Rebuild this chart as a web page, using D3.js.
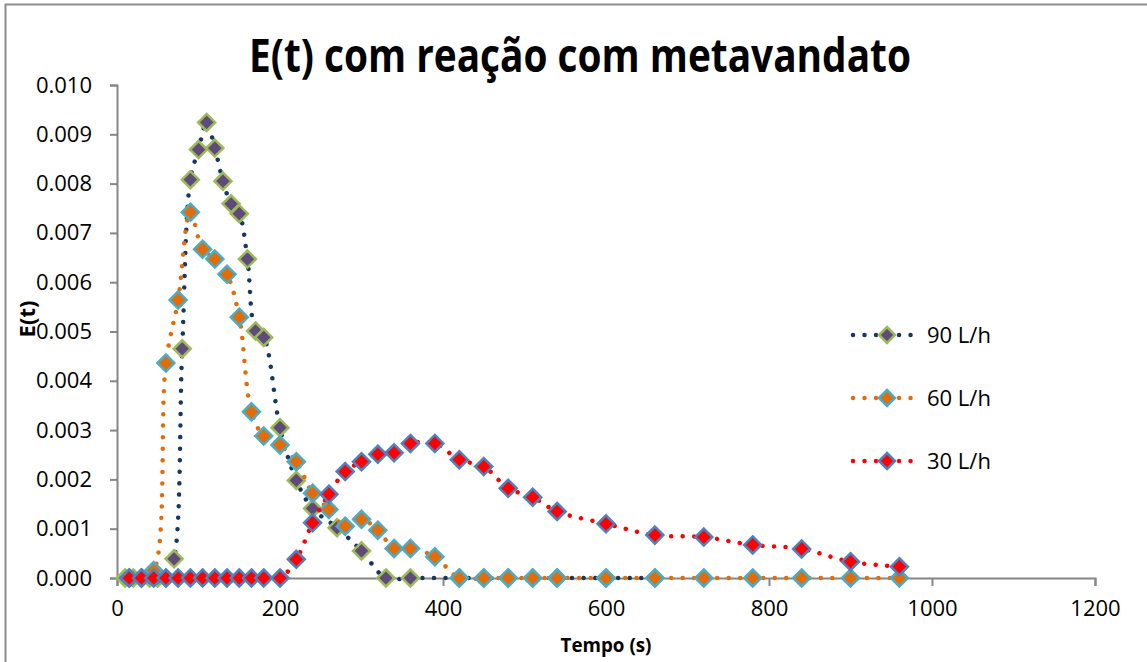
<!DOCTYPE html>
<html>
<head>
<meta charset="utf-8">
<script src="https://cdn.jsdelivr.net/npm/d3@7"></script>
<style>
  body { margin: 0; background: #fff; }
  svg { display: block; }
  text { font-family: "Open Sans", "Liberation Sans", sans-serif; fill: #000; }
</style>
</head>
<body>
<svg id="chart" width="1147" height="662"></svg>
<script>
// tempos (s) e E(t)
const t90 = [10,20,30,40,50,60,70,80,90,100,110,120,130,140,150,160,170,180,200,220,240,270,300,330,360,420,450,480,510,540,600,660];
const e90 = [0,0,0,0,0,0,0.00039,0.00465,0.00808,0.00869,0.00924,0.00872,0.00805,0.00759,0.00739,0.00647,0.00501,0.00488,0.00305,0.00198,0.00141,0.00102,0.00055,0,0,0,0,0,0,0,0,0];

const t60 = [15,30,45,60,75,90,105,120,135,150,165,180,200,220,240,260,280,300,320,340,360,390,420,450,480,510,540,600,660,720,780,840,900,960];
const e60 = [0,0,0.00015,0.00436,0.00564,0.00742,0.00667,0.00647,0.00616,0.00529,0.00337,0.00288,0.0027,0.00236,0.00172,0.00139,0.00105,0.00119,0.00097,0.0006,0.0006,0.00043,0,0,0,0,0,0,0,0,0,0,0,0];

const t30 = [15,30,45,60,75,90,105,120,135,150,165,180,200,220,240,260,280,300,320,340,360,390,420,450,480,510,540,600,660,720,780,840,900,960];
const e30 = [0,0,0,0,0,0,0,0,0,0,0,0,0,0.00038,0.00112,0.0017,0.00216,0.00236,0.00251,0.00254,0.00273,0.00273,0.0024,0.00226,0.00182,0.00164,0.00135,0.0011,0.00087,0.00083,0.00067,0.00059,0.00033,0.00023];

const seriesNames = ["90 L/h", "60 L/h", "30 L/h"];
const xTicks = [0,200,400,600,800,1000,1200];
const yTicks = [0,0.001,0.002,0.003,0.004,0.005,0.006,0.007,0.008,0.009,0.010];

const series = [
  {name: seriesNames[0], t: t90, e: e90, line: "#17375E", fill: "#604A7B", stroke: "#9BBB59"},
  {name: seriesNames[1], t: t60, e: e60, line: "#E36C09", fill: "#E36C09", stroke: "#4BACC6"},
  {name: seriesNames[2], t: t30, e: e30, line: "#FF0000", fill: "#FF0000", stroke: "#4F81BD"}
];

const svg = d3.select("#chart");
const axisGray = "#868686";

// moldura (so topo e esquerda aparecem)
svg.append("line").attr("x1", 5).attr("x2", 1147).attr("y1", 4.5).attr("y2", 4.5)
  .attr("stroke", "#8c8c8c").attr("stroke-width", 2);
svg.append("line").attr("x1", 5.5).attr("x2", 5.5).attr("y1", 4).attr("y2", 662)
  .attr("stroke", "#8c8c8c").attr("stroke-width", 2);

const x = d3.scaleLinear().domain([0, 1200]).range([117, 1095]);
const y = d3.scaleLinear().domain([0, 0.010]).range([578, 85]);

// eixo y
const gy = svg.append("g").attr("transform", "translate(117,0)")
  .call(d3.axisLeft(y).tickValues(yTicks).tickFormat(d3.format(".3f")).tickSize(7).tickPadding(18));
gy.select(".domain").attr("stroke", axisGray).attr("stroke-width", 2);
gy.selectAll(".tick line").attr("stroke", axisGray).attr("stroke-width", 2);
gy.selectAll(".tick text").attr("font-size", 22).attr("font-family", "Open Sans, sans-serif").attr("fill", "#000");

// eixo x
const gx = svg.append("g").attr("transform", "translate(0,578)")
  .call(d3.axisBottom(x).tickValues(xTicks).tickFormat(d3.format("d")).tickSize(8).tickPadding(14));
gx.select(".domain").attr("stroke", axisGray).attr("stroke-width", 2);
gx.selectAll(".tick line").attr("stroke", axisGray).attr("stroke-width", 2);
gx.selectAll(".tick text").attr("font-size", 22).attr("font-family", "Open Sans, sans-serif").attr("fill", "#000");

const diamond = r => `M0,${-r}L${r},0L0,${r}L${-r},0Z`;

const line = d3.line()
  .x(d => x(d[0]))
  .y(d => y(d[1]))
  .curve(d3.curveCatmullRom.alpha(0.5));

series.forEach(s => {
  const pts = s.t.map((t, i) => [t, s.e[i]]);
  svg.append("path")
    .datum(pts)
    .attr("fill", "none")
    .attr("stroke", s.line)
    .attr("stroke-width", 4.5)
    .attr("stroke-linecap", "round")
    .attr("stroke-dasharray", "0.01 11.5")
    .attr("d", line);
  svg.append("g").selectAll("path")
    .data(pts)
    .enter().append("path")
    .attr("transform", d => "translate(" + x(d[0]) + "," + y(d[1]) + ")")
    .attr("d", diamond(8.5))
    .attr("fill", s.fill)
    .attr("stroke", s.stroke)
    .attr("stroke-width", 2.5);
});

// legenda
const legY = [335, 398, 461];
series.forEach((s, i) => {
  const g = svg.append("g").attr("transform", "translate(0," + legY[i] + ")");
  g.append("line").attr("x1", 853).attr("x2", 913).attr("y1", 0).attr("y2", 0)
    .attr("stroke", s.line).attr("stroke-width", 4.5)
    .attr("stroke-linecap", "round").attr("stroke-dasharray", "0.01 11.5");
  g.append("path").attr("transform", "translate(887,0)").attr("d", diamond(8))
    .attr("fill", s.fill).attr("stroke", s.stroke).attr("stroke-width", 2.5);
  g.append("text").attr("x", 927).attr("y", 0).attr("dy", "0.35em")
    .attr("font-size", 22).text(s.name);
});

// titulos
svg.append("text")
  .attr("x", 249).attr("y", 72)
  .attr("font-size", 46).attr("font-weight", "bold")
  .attr("textLength", 662).attr("lengthAdjust", "spacingAndGlyphs")
  .text("E(t) com reação com metavandato");

svg.append("text")
  .attr("x", 606).attr("y", 652)
  .attr("text-anchor", "middle")
  .attr("font-size", 20).attr("font-weight", "bold")
  .attr("textLength", 91).attr("lengthAdjust", "spacingAndGlyphs")
  .text("Tempo (s)");

svg.append("text")
  .attr("transform", "translate(35,319) rotate(-90)")
  .attr("text-anchor", "middle")
  .attr("font-size", 22).attr("font-weight", "bold")
  .text("E(t)");
</script>
</body>
</html>
